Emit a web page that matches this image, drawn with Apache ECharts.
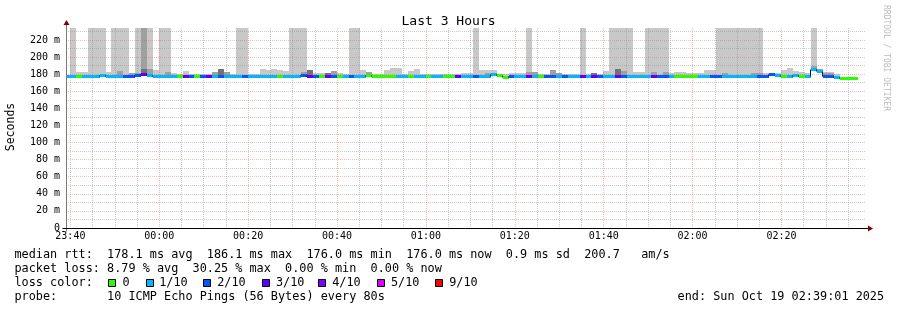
<!DOCTYPE html>
<html><head><meta charset="utf-8">
<script src="https://cdn.jsdelivr.net/npm/echarts@6/dist/echarts.min.js"></script>
<style>html,body{margin:0;padding:0;background:#fff}#c{width:897px;height:310px}</style>
</head><body><div id="c"></div>
<script>
// ---- time axis (seconds relative to 23:40:00) ----
const firstStepStart = -85;      // start of the first 80 s RRD step
const stepSeconds = 80;
const axisStart = -59;           // 23:39:01
const axisEnd = 10741;           // 02:39:01
const timeLabelValues = [0, 1200, 2400, 3600, 4800, 6000, 7200, 8400, 9600];
const timeLabels = ['23:40', '00:00', '00:20', '00:40', '01:00', '01:20', '01:40', '02:00', '02:20'];
const timeGridValues = [0,300,600,900,1200,1500,1800,2100,2400,2700,3000,3300,3600,3900,4200,4500,4800,5100,5400,5700,6000,6300,6600,6900,7200,7500,7800,8100,8400,8700,9000,9300,9600,9900,10200,10500];

// ---- value axis (ms) ----
const yLabelValues = [0, 20, 40, 60, 80, 100, 120, 140, 160, 180, 200, 220];
const yLabels = ['0', '20 m', '40 m', '60 m', '80 m', '100 m', '120 m', '140 m', '160 m', '180 m', '200 m', '220 m'];

// ---- per-step data ----
const lossCounts = [
  1,1,0,1,1,1,1,1,1,1,
  2,2,2,3,1,1,1,1,1,0,
  3,2,0,2,3,1,2,1,1,1,
  2,1,1,1,1,1,0,1,1,1,
  2,3,2,0,3,2,0,1,2,1,
  1,0,0,0,0,0,1,1,0,1,
  1,0,1,1,0,0,3,1,1,2,
  1,1,1,0,0,2,1,1,3,1,
  0,2,2,1,2,1,1,3,1,3,
  2,1,1,3,2,1,1,1,1,3,
  2,2,1,0,0,0,0,1,1,2,
  2,1,1,1,1,1,1,2,2,2,
  1,0,1,1,0,1,1,1,2,2,
  1,0,0,0];
const medianMs = [
  177.9,177.9,177.9,177.9,177.9,177.9,179.0,177.9,177.9,177.9,
  177.9,177.9,179.0,180.2,179.0,177.9,177.9,177.9,177.9,177.9,
  177.9,177.9,177.9,177.9,177.9,177.9,177.9,177.9,177.9,177.9,
  177.9,177.9,177.9,177.9,177.9,177.9,177.9,177.9,177.9,177.9,
  179.0,177.9,177.9,177.9,177.9,177.9,177.9,177.9,177.9,177.9,
  177.9,179.3,177.9,177.9,177.9,177.9,177.9,177.9,177.9,177.9,
  177.9,177.9,177.9,177.9,177.9,177.9,177.9,177.9,177.9,177.9,
  177.9,177.9,180.2,179.1,176.9,177.9,177.9,177.9,177.9,177.9,
  177.9,177.9,177.9,177.9,177.9,177.9,177.9,177.9,177.9,177.9,
  177.9,177.9,177.9,177.9,177.9,177.9,177.9,177.9,177.9,177.9,
  177.9,177.9,177.9,177.9,177.9,177.9,177.9,177.9,177.9,177.9,
  177.9,177.9,177.9,177.9,177.9,177.9,177.9,177.9,177.9,179.6,
  179.1,177.9,177.9,179.1,177.9,177.9,186.1,183.5,177.6,177.6,
  176.8,176.0,176.0,176.0];
const smokeHigh = [
  null,250,182.6,182.6,250,250,250,182.0,250,250,
  250,181.0,250,250,250,184.9,250,250,181.4,180.2,
  183.7,180.2,180.2,180.2,180.6,182.6,182.6,182.6,180.2,250,
  250,180.2,180.6,185.5,184.9,186.1,184.9,183.7,250,250,
  250,184.9,181.4,181.4,181.4,183.7,181.4,180.2,250,250,
  184.9,182.6,180.2,180.2,184.9,187.2,187.2,180.2,183.7,186.1,
  180.2,180.2,180.2,180.6,180.2,180.2,180.2,181.4,181.4,250,
  184.9,184.9,184.9,180.2,180.2,181.4,181.4,181.4,250,182.6,
  180.2,180.2,184.9,181.4,180.2,180.2,180.2,250,180.2,181.4,
  180.2,183.7,250,250,250,250,182.0,182.0,250,250,
  250,250,181.4,182.6,182.6,181.4,181.4,181.4,184.9,184.9,
  250,250,250,250,250,250,250,250,181.4,181.4,
  181.4,184.9,187.2,183.7,182.0,181.0,250,185.0,182.6,182.6,
  180.2,null,null,null];
const smokeMid = [
  null,null,null,null,null,null,null,null,null,183.7,
  null,181.0,181.0,250,186.1,null,null,182.6,null,null,
  null,null,null,null,null,182.6,null,182.6,null,null,
  null,null,null,null,null,null,null,null,null,null,
  182.0,null,null,null,null,183.7,null,null,null,null,
  null,182.6,null,null,null,null,null,null,null,null,
  null,null,null,null,null,null,null,null,null,null,
  null,181.4,null,null,null,null,null,null,182.6,182.6,
  null,null,184.9,181.4,null,null,null,null,null,null,
  null,null,null,null,183.7,null,null,null,null,182.6,
  null,182.6,null,null,null,null,null,null,null,null,
  null,181.4,null,null,null,null,181.4,181.4,null,null,
  null,null,null,null,null,null,190.0,186.0,181.4,181.4,
  null,null,null,null];
const smokeDark = [
  null,null,null,null,null,null,null,null,null,null,
  null,null,null,186.1,null,null,null,null,null,null,
  null,null,null,null,null,null,186.1,null,null,null,
  null,null,null,null,null,null,null,null,null,null,
  null,184.9,null,null,181.4,null,null,null,null,null,
  null,null,null,null,null,null,null,null,null,null,
  null,null,null,null,null,null,null,null,null,null,
  null,null,null,null,null,null,null,null,null,null,
  null,null,null,null,null,null,null,null,null,181.4,
  null,null,null,186.1,null,null,null,null,null,null,
  null,null,null,null,null,null,null,null,null,null,
  null,null,null,null,null,null,null,null,null,null,
  null,null,null,null,null,null,null,null,null,null,
  null,null,null,null];

// ---- loss legend ----
const lossLevels = [0, 1, 2, 3, 4, 5, 9];
const lossLabels = ['0', '1/10', '2/10', '3/10', '4/10', '5/10', '9/10'];
const lossColors = ['#26ff00', '#00b8ff', '#0059ff', '#5e00ff', '#7e00ff', '#dd00ff', '#ff0000'];

// ---- text ----
const titleText = 'Last 3 Hours';
const yAxisTitle = 'Seconds';
const statLines = [
  'median rtt:  178.1 ms avg  186.1 ms max  176.0 ms min  176.0 ms now  0.9 ms sd  200.7   am/s',
  'packet loss: 8.79 % avg  30.25 % max  0.00 % min  0.00 % now',
  'loss color:',
  'probe:       10 ICMP Echo Pings (56 Bytes) every 80s'
];
const endText = 'end: Sun Oct 19 02:39:01 2025';
const watermark = 'RRDTOOL / TOBI OETIKER';

function lossColor(n) {
  let c = lossColors[0];
  for (let i = 0; i < lossLevels.length; i++) if (n >= lossLevels[i]) c = lossColors[i];
  return c;
}

const stepData = medianMs.map((m, k) => {
  const s = firstStepStart + k * stepSeconds;
  return [s, s + stepSeconds, m, smokeHigh[k], smokeMid[k], smokeDark[k], lossCounts[k], k > 0 ? medianMs[k - 1] : null];
});

const MONO = '"DejaVu Sans Mono", monospace';

function renderSmoke(params, api) {
  const s = api.value(0), e = api.value(1), base = api.value(2);
  const layers = [[3, '#c8c8c8'], [4, '#a0a0a0'], [5, '#737373']];
  const children = [];
  for (const [dim, color] of layers) {
    const top = api.value(dim);
    if (top == null || isNaN(top)) continue;
    const p0 = api.coord([s, top]), p1 = api.coord([e, base]);
    const x0 = Math.round(p0[0]), x1 = Math.round(p1[0]);
    const y0 = Math.round(p0[1]), y1 = Math.round(p1[1]);
    children.push({ type: 'rect', shape: { x: x0, y: y0, width: x1 - x0, height: y1 - y0 }, style: { fill: color } });
  }
  return { type: 'group', children };
}

function renderMedian(params, api) {
  const s = api.value(0), e = api.value(1), m = api.value(2), loss = api.value(6), prev = api.value(7);
  const a = api.coord([s, m]), b = api.coord([e, m]);
  const y = Math.round(a[1]) + 0.5;
  const x0 = Math.round(a[0]), x1 = Math.round(b[0]);
  const children = [];
  if (prev != null && !isNaN(prev)) {
    const py = Math.round(api.coord([s, prev])[1]) + 0.5;
    if (py !== y) {
      children.push({ type: 'line', shape: { x1: x0 - 0.5, y1: py, x2: x0 - 0.5, y2: y }, style: { stroke: '#1a1a1a', lineWidth: 1 } });
    }
  }
  children.push({ type: 'line', shape: { x1: x0, y1: y, x2: x1, y2: y }, style: { stroke: lossColor(loss), lineWidth: 3 } });
  return { type: 'group', children };
}

const chart = echarts.init(document.getElementById('c'), null, { renderer: 'canvas' });
const MAJOR = 'rgba(240,80,80,0.38)';
const MINOR = 'rgba(140,140,140,0.45)';

chart.setOption({
  animation: false,
  backgroundColor: '#ffffff',
  title: { text: titleText, left: 'center', top: 10, textStyle: { fontFamily: MONO, fontSize: 13, fontWeight: 'normal', color: '#000' } },
  grid: { left: 66, top: 28, width: 800, height: 200, containLabel: false },
  xAxis: {
    type: 'value', min: axisStart, max: axisEnd, z: 3,
    axisLine: { show: false },
    axisTick: { show: false, customValues: timeGridValues },
    axisLabel: {
      customValues: timeLabelValues,
      formatter: v => timeLabels[timeLabelValues.indexOf(v)] || '',
      fontFamily: MONO, fontSize: 10, color: '#000', margin: 3
    },
    splitLine: { show: true, lineStyle: { color: [MAJOR, MINOR, MINOR, MINOR], type: [1, 1], width: 1 } }
  },
  yAxis: {
    type: 'value', min: 0, max: 234, interval: 10, z: 3,
    axisLine: { show: false }, axisTick: { show: false },
    axisLabel: {
      formatter: v => { const i = yLabelValues.indexOf(v); return i >= 0 ? yLabels[i] : ''; },
      fontFamily: MONO, fontSize: 10, color: '#000', margin: 6
    },
    splitLine: { show: true, showMaxLine: false, lineStyle: { color: [MAJOR, MINOR], type: [1, 1], width: 1 } }
  },
  series: [
    { type: 'custom', name: 'smoke', data: stepData, renderItem: renderSmoke, clip: true, z: 2, silent: true,
      encode: { x: [0, 1], y: [2, 3] } },
    { type: 'custom', name: 'median', data: stepData, renderItem: renderMedian, clip: true, z: 5, silent: true,
      encode: { x: [0, 1], y: 2 } }
  ]
});

// axes, arrows and text block
const o = chart.convertToPixel({ gridIndex: 0 }, [axisStart, 0]);
const t = chart.convertToPixel({ gridIndex: 0 }, [axisEnd, 234]);
const ax = Math.round(o[0]) + 0.5, ay = Math.round(o[1]) + 0.5;
const rx = Math.round(t[0]), ty = Math.round(t[1]);

const g = [];
g.push({ type: 'line', z: 20, shape: { x1: ax, y1: ay + 3, x2: ax, y2: ty - 4 }, style: { stroke: '#7a7a7a', lineWidth: 1 } });
g.push({ type: 'line', z: 20, shape: { x1: ax - 4, y1: ay, x2: rx + 2, y2: ay }, style: { stroke: '#000', lineWidth: 1 } });
g.push({ type: 'polygon', z: 21, shape: { points: [[ax - 3, ty - 3], [ax + 3, ty - 3], [ax, ty - 8]] }, style: { fill: '#7f0000' } });
g.push({ type: 'polygon', z: 21, shape: { points: [[rx + 2, ay - 3], [rx + 2, ay + 3], [rx + 7, ay]] }, style: { fill: '#7f0000' } });

g.push({ type: 'text', z: 20, x: 11, y: 127, rotation: Math.PI / 2,
  style: { text: yAxisTitle, font: '11.5px ' + MONO, fill: '#000', align: 'center', verticalAlign: 'middle' } });
g.push({ type: 'text', z: 20, x: 886, y: 5, rotation: -Math.PI / 2,
  style: { text: watermark, font: '8px ' + MONO, fill: '#bdbdbd', align: 'left', verticalAlign: 'middle' } });

const lineY = [254.5, 268.5, 282.5, 296.5];
statLines.forEach((txt, i) => {
  g.push({ type: 'text', z: 20, x: 14.5, y: lineY[i], style: { text: txt, font: '11.84px ' + MONO, fill: '#000', align: 'left', verticalAlign: 'middle' } });
});
g.push({ type: 'text', z: 20, x: 677.6, y: lineY[3], style: { text: endText, font: '11.84px ' + MONO, fill: '#000', align: 'left', verticalAlign: 'middle' } });

const swatchX = [108, 146, 203, 262, 318, 377, 435];
const swatchTextX = [122.5, 159.2, 217.2, 275.9, 332.2, 390.9, 449.2];
lossLabels.forEach((lab, i) => {
  g.push({ type: 'rect', z: 20, shape: { x: swatchX[i] + 0.5, y: 279.5, width: 7, height: 7 }, style: { fill: lossColors[i], stroke: '#000', lineWidth: 1 } });
  g.push({ type: 'text', z: 20, x: swatchTextX[i], y: lineY[2], style: { text: lab, font: '11.84px ' + MONO, fill: '#000', align: 'left', verticalAlign: 'middle' } });
});

chart.setOption({ graphic: g });
</script>
</body></html>
